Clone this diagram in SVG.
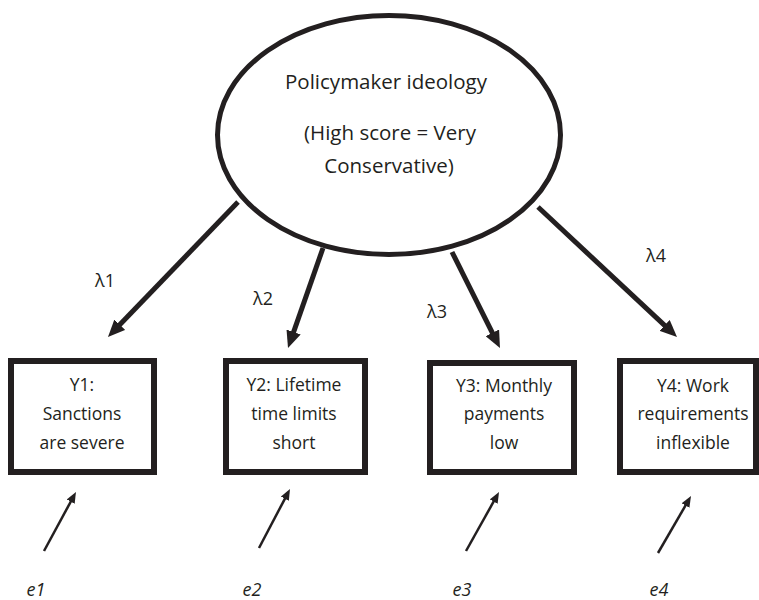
<svg xmlns="http://www.w3.org/2000/svg" width="759" height="600" viewBox="0 0 759 600">
<style>
text{font-family:"Open Sans","Noto Sans","DejaVu Sans",sans-serif;fill:#231f20;text-anchor:middle;font-size:17.5px}
.big{font-size:20.5px}
.lam{font-size:18px}
.node{fill:#fff;stroke:#231f20;stroke-width:6}
.oval{fill:#fff;stroke:#231f20;stroke-width:5}
.load{stroke:#231f20;stroke-width:5;fill:none;marker-end:url(#ah)}
.err{stroke:#231f20;stroke-width:2.5;fill:none;marker-end:url(#ahs)}
.e{font-style:italic;font-size:18px}
</style>
<defs>
<marker id="ah" markerUnits="userSpaceOnUse" markerWidth="17" markerHeight="15" refX="7" refY="7.5" orient="auto"><path d="M0,0 L17,7.5 L0,15 z" fill="#231f20"/></marker>
<marker id="ahs" markerUnits="userSpaceOnUse" markerWidth="11" markerHeight="9" refX="5" refY="4.5" orient="auto"><path d="M0,0 L11,4.5 L0,9 z" fill="#231f20"/></marker>
</defs>
<rect width="759" height="600" fill="#fff"/>
<g id="ideology">
<ellipse class="oval" cx="389" cy="135" rx="171.5" ry="119.5"/>
<text class="big" x="386" y="89">Policymaker ideology</text>
<text class="big" x="390" y="140">(High score = Very</text>
<text class="big" x="389" y="173">Conservative)</text>
</g>
<g id="y1">
<rect class="node" x="11" y="361" width="143" height="111"/>
<text x="82" y="391">Y1:</text>
<text x="82" y="420">Sanctions</text>
<text x="82" y="449">are severe</text>
</g>
<g id="y2">
<rect class="node" x="226" y="361" width="139" height="111"/>
<text x="294" y="391">Y2: Lifetime</text>
<text x="294" y="420">time limits</text>
<text x="294" y="449">short</text>
</g>
<g id="y3">
<rect class="node" x="430" y="363" width="144" height="109"/>
<text x="504" y="392">Y3: Monthly</text>
<text x="504" y="420">payments</text>
<text x="504" y="449">low</text>
</g>
<g id="y4">
<rect class="node" x="620" y="361" width="136" height="111"/>
<text x="693" y="392">Y4: Work</text>
<text x="693" y="420">requirements</text>
<text x="693" y="449">inflexible</text>
</g>
<g id="connectors">
<line class="load" x1="238" y1="202" x2="114.9" y2="329.8"/>
<line class="load" x1="323" y1="248" x2="291.3" y2="338.6"/>
<line class="load" x1="452" y1="252" x2="495.5" y2="339.1"/>
<line class="load" x1="538" y1="207" x2="669.7" y2="330.2"/>
<line class="err" x1="44" y1="551" x2="73.1" y2="497.3"/>
<line class="err" x1="259" y1="548" x2="287.2" y2="494.3"/>
<line class="err" x1="466" y1="551" x2="496.1" y2="497.2"/>
<line class="err" x1="658" y1="553" x2="688" y2="501.2"/>
<text class="lam" x="105" y="287">λ1</text>
<text class="lam" x="263" y="305">λ2</text>
<text class="lam" x="437" y="318">λ3</text>
<text class="lam" x="656" y="262">λ4</text>
</g>
<g id="errors">
<text class="e" x="36" y="596">e1</text>
<text class="e" x="252" y="596">e2</text>
<text class="e" x="462" y="596">e3</text>
<text class="e" x="659" y="596">e4</text>
</g>
</svg>
